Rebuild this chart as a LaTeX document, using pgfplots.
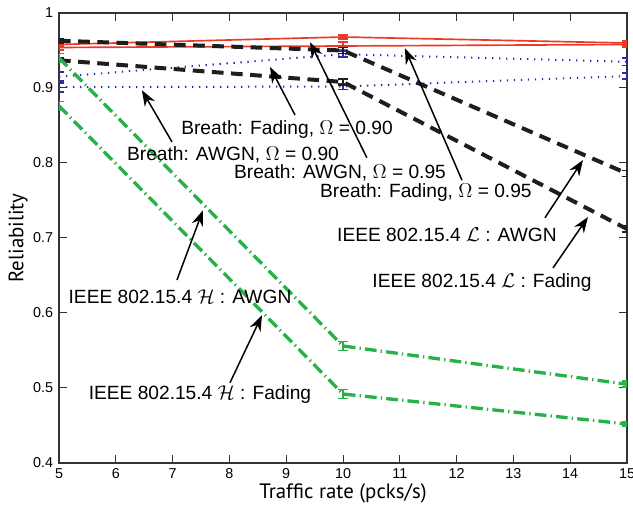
\documentclass[border=0pt]{standalone}
\usepackage{pgfplots}
\pgfplotsset{compat=1.18}
\usepackage{fontspec}
\setmainfont{Liberation Sans}
\newfontfamily\labelfont{PT Sans}
\usetikzlibrary{arrows.meta,calc}
\definecolor{bred}{RGB}{236,58,40}
\definecolor{bblue}{RGB}{45,45,160}
\definecolor{bgreen}{RGB}{38,178,72}
\definecolor{bblack}{RGB}{30,30,30}

\begin{document}
\begin{tikzpicture}[
  ann/.style={font=\fontsize{11.5}{12}\selectfont, inner sep=0pt},
  arr/.style={-{Stealth[length=9.5pt,width=7pt]}, line width=0.9pt}]
\begin{axis}[name=ax,
  scale only axis, width=340.8pt, height=270pt,
  xmin=5, xmax=15, ymin=0.4, ymax=1,
  xtick={5,6,7,8,9,10,11,12,13,14,15},
  ytick={0.4,0.5,0.6,0.7,0.8,0.9,1},
  yticklabels={0.4,0.5,0.6,0.7,0.8,0.9,1},
  tick pos=both, tick align=inside, major tick length=4.8pt,
  axis line style={line width=0.8pt, black!80},
  tick style={line width=0.6pt, black!80},
  tick label style={font=\fontsize{8.6}{9}\selectfont, /pgf/number format/assume math mode=true},
  xlabel={\labelfont Traffic rate (pcks/s)},
  ylabel={\labelfont Reliability},
  label style={font=\fontsize{12.5}{13}\selectfont},
  xlabel style={at={(axis description cs:0.5,-0.068)}, anchor=center},
  ylabel style={at={(axis description cs:-0.072,0.5)}, anchor=center},
  every axis plot/.append style={mark=none,
    /pgfplots/error bars/y dir=both, /pgfplots/error bars/y explicit,
    /pgfplots/error bars/error bar style={solid, line width=1pt},
    /pgfplots/error bars/error mark options={rotate=90, mark size=3pt, line width=1pt, solid}},
]
% Breath AWGN 0.95
\addplot[bred, line width=1pt] coordinates
  {(5,0.958) +- (0,0.003) (10,0.968) +- (0,0.003) (15,0.960) +- (0,0.003)};
% Breath Fading 0.95
\addplot[bred, line width=1pt] coordinates
  {(5,0.954) +- (0,0.003) (10,0.956) +- (0,0.005) (15,0.958) +- (0,0.003)};
% Breath Fading 0.90
\addplot[bblue, line width=1.2pt, dash pattern=on 0.8pt off 3.4pt] coordinates
  {(5,0.915) +- (0,0.006) (10,0.945) +- (0,0.004) (15,0.935) +- (0,0.005)};
% Breath AWGN 0.90
\addplot[bblue, line width=1.2pt, dash pattern=on 0.8pt off 3.4pt] coordinates
  {(5,0.901) +- (0,0.006) (10,0.902) +- (0,0.004) (15,0.916) +- (0,0.004)};
% IEEE L AWGN
\addplot[bblack, line width=2.4pt, dash pattern=on 7pt off 4.5pt] coordinates
  {(5,0.963) +- (0,0.003) (10,0.950) +- (0,0.004) (15,0.786) +- (0,0.004)};
% IEEE L Fading
\addplot[bblack, line width=2.4pt, dash pattern=on 7pt off 4.5pt] coordinates
  {(5,0.937) +- (0,0.003) (10,0.908) +- (0,0.004) (15,0.712) +- (0,0.004)};
% IEEE H AWGN
\addplot[bgreen, line width=2pt, dash pattern=on 7pt off 2.5pt on 0.8pt off 2.5pt] coordinates
  {(5,0.940) +- (0,0.006) (10,0.556) +- (0,0.006) (15,0.505) +- (0,0.004)};
% IEEE H Fading
\addplot[bgreen, line width=2pt, dash pattern=on 7pt off 2.5pt on 0.8pt off 2.5pt] coordinates
  {(5,0.876) +- (0,0.006) (10,0.492) +- (0,0.006) (15,0.452) +- (0,0.003)};

\node[ann] at (axis cs:9.014,0.844) {Breath: Fading, $\Omega$ = 0.90};
\node[ann] at (axis cs:8.063,0.811) {Breath: AWGN, $\Omega$ = 0.90};
\node[ann] at (axis cs:9.947,0.787) {Breath: AWGN, $\Omega$ = 0.95};
\node[ann] at (axis cs:11.46,0.760) {Breath: Fading, $\Omega$ = 0.95};
\node[ann] at (axis cs:11.83,0.704) {IEEE 802.15.4 $\mathcal{L}$ : AWGN};
\node[ann] at (axis cs:12.447,0.640) {IEEE 802.15.4 $\mathcal{L}$ : Fading};
\node[ann] at (axis cs:7.13,0.621) {IEEE 802.15.4 $\mathcal{H}$ : AWGN};
\node[ann] at (axis cs:7.482,0.491) {IEEE 802.15.4 $\mathcal{H}$ : Fading};

\draw[arr] (axis cs:9.155,0.864) -- (axis cs:8.715,0.928);
\draw[arr] (axis cs:6.99,0.828) -- (axis cs:6.46,0.897);
\draw[arr] (axis cs:10.42,0.807) -- (axis cs:9.42,0.961);
\draw[arr] (axis cs:12.095,0.777) -- (axis cs:11.09,0.953);
\draw[arr] (axis cs:13.556,0.727) -- (axis cs:14.225,0.804);
\draw[arr] (axis cs:13.697,0.660) -- (axis cs:14.313,0.728);
\draw[arr] (axis cs:7.077,0.644) -- (axis cs:7.535,0.737);
\draw[arr] (axis cs:8.01,0.507) -- (axis cs:8.574,0.597);
\end{axis}
\pgfresetboundingbox
\path ($(ax.south west)+(-35.4pt,-28.8pt)$) rectangle ($(ax.north east)+(3.6pt,7.8pt)$);
\end{tikzpicture}
\end{document}
